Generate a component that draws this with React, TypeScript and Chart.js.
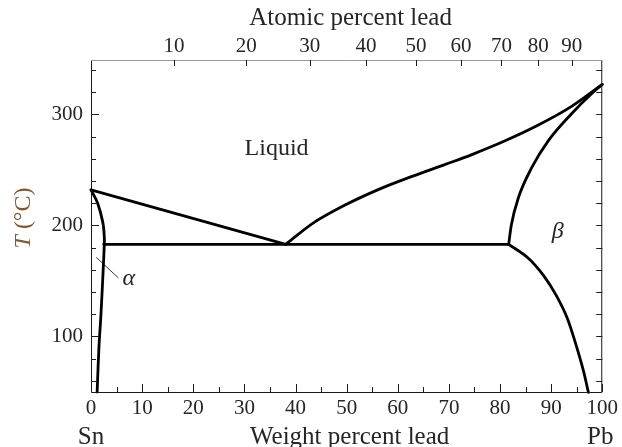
import React, { useEffect, useRef } from 'react';
import { Chart, registerables } from 'chart.js';

Chart.register(...registerables);

// ---------- data ----------
const xTicks = [0, 5, 10, 15, 20, 25, 30, 35, 40, 45, 50, 55, 60, 65, 70, 75, 80, 85, 90, 95, 100];
const xLabeled = [0, 10, 20, 30, 40, 50, 60, 70, 80, 90, 100];
const yTicks = [60, 80, 100, 120, 140, 160, 180, 200, 220, 240, 260, 280, 300, 320, 340];
const yLabeled = [100, 200, 300];
const atomicTicks = [10, 20, 30, 40, 50, 60, 70, 80, 90];

const liquidusLeft = [
  { x: 0, y: 232 },
  { x: 38.1, y: 183 },
];
const liquidusRight = [
  { x: 38.1, y: 183 },
  { x: 43.3, y: 201.7 },
  { x: 49.8, y: 218.6 },
  { x: 56.3, y: 232.5 },
  { x: 62.8, y: 244.2 },
  { x: 69.3, y: 255 },
  { x: 74.5, y: 263.8 },
  { x: 81, y: 276.2 },
  { x: 87.5, y: 290.4 },
  { x: 94, y: 307.2 },
  { x: 100, y: 327 },
];
const alphaBoundary = [
  { x: 0, y: 232 },
  { x: 1.3, y: 220 },
  { x: 2.3, y: 203 },
  { x: 2.6, y: 190 },
  { x: 2.6, y: 183 },
  { x: 2.4, y: 162 },
  { x: 1.95, y: 120 },
  { x: 1.55, y: 90 },
  { x: 1.2, y: 50 },
];
const eutectic = [
  { x: 2.5, y: 183 },
  { x: 81.7, y: 183 },
];
const betaSolidus = [
  { x: 81.7, y: 183 },
  { x: 82.2, y: 200 },
  { x: 83.6, y: 225 },
  { x: 86.2, y: 252 },
  { x: 89.5, y: 276.6 },
  { x: 94, y: 300.6 },
  { x: 97.9, y: 318.6 },
  { x: 100, y: 327 },
];
const betaSolvus = [
  { x: 81.7, y: 183 },
  { x: 85.6, y: 170.3 },
  { x: 88.5, y: 155 },
  { x: 91.0, y: 137 },
  { x: 93.2, y: 116 },
  { x: 94.9, y: 92 },
  { x: 96.3, y: 69.4 },
  { x: 97.3, y: 49.6 },
];
const alphaLeader = [
  { x: 1.1, y: 171 },
  { x: 5.3, y: 153 },
];

// ---------- styling / label placement ----------
const FONT = '"Liberation Serif", "Times New Roman", serif';
const TEXT = '#262626';
const PB_MASS = 207.2;
const SN_MASS = 118.71;
const atomicToWeight = (a: number) => (100 * a * PB_MASS) / (a * PB_MASS + (100 - a) * SN_MASS);

const regionLabels = [
  { text: 'Liquid', x: 36.3, y: 269.5, italic: false },
  { text: 'α', x: 7.4, y: 152.3, italic: true },
  { text: 'β', x: 91.3, y: 194.6, italic: true },
];

const framePlugin = {
  id: 'frame',
  afterDraw(chart: any) {
    const { ctx, chartArea, scales } = chart;
    const { left, right, top, bottom } = chartArea;
    const xs = scales.x;
    const ys = scales.y;
    ctx.save();
    // frame
    ctx.lineWidth = 1;
    ctx.strokeStyle = '#1a1a1a';
    ctx.beginPath();
    ctx.moveTo(left + 0.5, top);
    ctx.lineTo(left + 0.5, bottom + 0.5);
    ctx.lineTo(right - 0.5, bottom + 0.5);
    ctx.lineTo(right - 0.5, top);
    ctx.stroke();
    ctx.strokeStyle = '#9a9a9a';
    ctx.beginPath();
    ctx.moveTo(left, top + 0.5);
    ctx.lineTo(right, top + 0.5);
    ctx.stroke();

    // inward ticks
    ctx.strokeStyle = '#1a1a1a';
    ctx.beginPath();
    xTicks.forEach((v) => {
      const px = Math.round(xs.getPixelForValue(v)) + 0.5;
      const len = xLabeled.includes(v) ? 8 : 5;
      ctx.moveTo(px, bottom);
      ctx.lineTo(px, bottom - len);
    });
    atomicTicks.forEach((a) => {
      const px = Math.round(xs.getPixelForValue(atomicToWeight(a))) + 0.5;
      ctx.moveTo(px, top);
      ctx.lineTo(px, top + 6);
    });
    yTicks.forEach((v) => {
      const py = Math.round(ys.getPixelForValue(v)) + 0.5;
      const len = yLabeled.includes(v) ? 8 : 5;
      ctx.moveTo(left, py);
      ctx.lineTo(left + len, py);
      ctx.moveTo(right, py);
      ctx.lineTo(right - 6, py);
    });
    ctx.stroke();

    // region labels
    ctx.fillStyle = TEXT;
    ctx.textAlign = 'center';
    ctx.textBaseline = 'middle';
    regionLabels.forEach((l) => {
      ctx.font = `${l.italic ? 'italic ' : ''}24px ${FONT}`;
      ctx.fillText(l.text, xs.getPixelForValue(l.x), ys.getPixelForValue(l.y));
    });

    // axis titles
    ctx.font = `25px ${FONT}`;
    ctx.fillText('Atomic percent lead', xs.getPixelForValue(50) + 4, 18);
    ctx.fillText('Sn', xs.getPixelForValue(0), 437);
    ctx.fillText('Weight percent lead', xs.getPixelForValue(50) + 3, 437);
    ctx.fillText('Pb', xs.getPixelForValue(100) - 2, 437);

    // y title
    ctx.translate(24, 218);
    ctx.rotate(-Math.PI / 2);
    ctx.fillStyle = '#7b5a36';
    ctx.textAlign = 'left';
    ctx.font = `italic 24px ${FONT}`;
    const tW = ctx.measureText('T').width;
    ctx.font = `24px ${FONT}`;
    const restW = ctx.measureText(' (°C)').width;
    const start = -(tW + restW) / 2;
    ctx.font = `italic 24px ${FONT}`;
    ctx.fillText('T', start, 0);
    ctx.font = `24px ${FONT}`;
    ctx.fillText(' (°C)', start + tW, 0);
    ctx.restore();
  },
};

const lineDs = (data: any[], mode: 'straight' | 'monotone' | 'bezier', width = 2.8, color = '#000') => ({
  data,
  showLine: true,
  borderColor: color,
  borderWidth: width,
  pointRadius: 0,
  tension: mode === 'bezier' ? 0.35 : 0,
  cubicInterpolationMode: mode === 'monotone' ? 'monotone' : 'default',
  fill: false,
  clip: false as any,
  borderCapStyle: 'round',
  borderJoinStyle: 'round',
});

export default function App() {
  const ref = useRef<HTMLCanvasElement | null>(null);
  useEffect(() => {
    if (!ref.current) return;
    const tickFont = { family: FONT, size: 21 };
    const chart = new Chart(ref.current, {
      type: 'scatter',
      data: {
        datasets: [
          lineDs(liquidusLeft, 'straight'),
          lineDs(liquidusRight, 'monotone'),
          lineDs(alphaBoundary, 'bezier'),
          lineDs(eutectic, 'straight'),
          lineDs(betaSolidus, 'monotone'),
          lineDs(betaSolvus, 'monotone'),
          lineDs(alphaLeader, 'straight', 1, '#333'),
        ] as any,
      },
      plugins: [framePlugin as any],
      options: {
        animation: false,
        responsive: false,
        layout: { padding: { left: 0, right: 18, top: 0, bottom: 0 } },
        plugins: { legend: { display: false }, tooltip: { enabled: false } },
        scales: {
          x: {
            type: 'linear',
            position: 'bottom',
            min: 0,
            max: 100,
            grid: { display: false, drawTicks: false },
            border: { display: false },
            afterBuildTicks: (s: any) => {
              s.ticks = xTicks.map((v) => ({ value: v }));
            },
            afterFit: (s: any) => {
              s.height = 55;
            },
            ticks: {
              autoSkip: false,
              maxRotation: 0,
              padding: 4,
              color: TEXT,
              font: tickFont,
              callback: (v: any) => (xLabeled.includes(Number(v)) ? String(v) : ''),
            },
          },
          x2: {
            type: 'linear',
            position: 'top',
            min: 0,
            max: 100,
            grid: { display: false, drawTicks: false },
            border: { display: false },
            afterBuildTicks: (s: any) => {
              s.ticks = atomicTicks.map((a) => ({ value: atomicToWeight(a) }));
            },
            afterFit: (s: any) => {
              s.height = 60;
            },
            ticks: {
              autoSkip: false,
              maxRotation: 0,
              padding: 1,
              color: TEXT,
              font: tickFont,
              callback: (_v: any, i: number) => String(atomicTicks[i]),
            },
          },
          y: {
            type: 'linear',
            position: 'left',
            min: 50,
            max: 349,
            grid: { display: false, drawTicks: false },
            border: { display: false },
            afterBuildTicks: (s: any) => {
              s.ticks = yTicks.map((v) => ({ value: v }));
            },
            afterFit: (s: any) => {
              s.width = 91;
            },
            ticks: {
              autoSkip: false,
              padding: 8,
              color: TEXT,
              font: tickFont,
              callback: (v: any) => (yLabeled.includes(Number(v)) ? String(v) : ''),
            },
          },
        },
      } as any,
    });
    return () => chart.destroy();
  }, []);
  return (
    <div style={{ position: 'absolute', left: 0, top: 0, width: 622, height: 447 }}>
      <canvas ref={ref} width={622} height={447} style={{ display: 'block' }} />
    </div>
  );
}
